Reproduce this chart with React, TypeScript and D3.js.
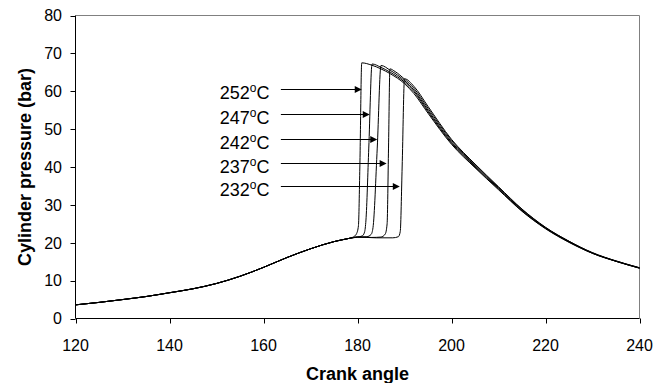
import React from "react";
import * as d3 from "d3";

// ---------- data ----------
const xTicks = [120, 140, 160, 180, 200, 220, 240];
const yTicks = [0, 10, 20, 30, 40, 50, 60, 70, 80];

// shared compression part (crank angle, bar)
const compressionAngle = [120, 125, 130, 135, 140, 145, 150, 155, 160, 165, 170, 175, 178];
const compressionPressure = [3.6, 4.25, 5.0, 5.8, 6.8, 7.85, 9.25, 11.15, 13.5, 16.1, 18.4, 20.3, 21.1];

const seriesLabels = ["252", "247", "242", "237", "232"];

const angle252 = [179.2, 179.8, 180.2, 180.5, 180.9, 183, 185, 187, 190, 192, 195, 200, 205, 210, 215, 220, 225, 230, 235, 240];
const press252 = [21.6, 22.4, 24.5, 40.0, 67.5, 66.9, 65.9, 64.6, 62.0, 59.4, 54.2, 46.0, 39.8, 34.0, 28.3, 23.7, 20.1, 17.2, 15.1, 13.3];

const angle247 = [180, 181, 181.5, 181.8, 182.4, 183.1, 185, 187, 190, 192, 195, 200, 205, 210, 215, 220, 225, 230, 235, 240];
const press247 = [21.5, 21.8, 22.8, 26.0, 45.0, 67.2, 66.3, 65.0, 62.4, 59.9, 54.6, 46.3, 40.0, 34.2, 28.4, 23.8, 20.2, 17.2, 15.1, 13.3];

const angle242 = [180, 182, 182.9, 183.3, 184.2, 185.0, 187, 190, 192, 195, 200, 205, 210, 215, 220, 225, 230, 235, 240];
const press242 = [21.5, 21.6, 22.2, 24.0, 45.0, 66.8, 65.5, 62.8, 60.3, 55.0, 46.6, 40.3, 34.4, 28.6, 23.9, 20.3, 17.3, 15.1, 13.3];

const angle237 = [180, 183, 185, 185.9, 186.3, 186.6, 186.9, 188, 190, 192, 195, 200, 205, 210, 215, 220, 225, 230, 235, 240];
const press237 = [21.5, 21.4, 21.5, 22.3, 25.0, 45.0, 65.9, 65.2, 63.2, 60.8, 55.5, 47.0, 40.6, 34.6, 28.8, 24.0, 20.4, 17.3, 15.2, 13.4];

const angle232 = [180, 184, 187.5, 188.7, 189.1, 189.5, 190.0, 192, 195, 200, 205, 210, 215, 220, 225, 230, 235, 240];
const press232 = [21.5, 21.3, 21.3, 21.6, 23.0, 40.0, 63.3, 61.3, 56.0, 47.3, 40.8, 34.8, 28.9, 24.1, 20.4, 17.4, 15.2, 13.4];

// annotation arrows (pressure level of the arrow, angle of its tip)
const arrowPressure = [60.5, 54.0, 47.5, 41.0, 35.0];
const arrowTipAngle = [180.9, 182.6, 184.2, 186.2, 189.0];
const labelStartAngle = 150.7;
const arrowStartAngle = 163.7;

// ---------- layout ----------
const W = 666;
const H = 383;
const left = 75.5;
const right = 639.5;
const top = 15.5;
const bottom = 318.5;

export default function App() {
  const x = d3.scaleLinear().domain([120, 240]).range([left, right]);
  const y = d3.scaleLinear().domain([0, 80]).range([bottom, top]);

  const curves = [
    [angle252, press252],
    [angle247, press247],
    [angle242, press242],
    [angle237, press237],
    [angle232, press232],
  ];

  const line = d3
    .line<[number, number]>()
    .x((d) => x(d[0]))
    .y((d) => y(d[1]))
    .curve(d3.curveMonotoneX);

  const paths = curves.map(([a, p]) => {
    const pts: [number, number][] = compressionAngle.map((ang, i) => [ang, compressionPressure[i]]);
    a.forEach((ang, i) => pts.push([ang, p[i]]));
    return line(pts) as string;
  });

  const font = "Arial, 'Liberation Sans', Helvetica, sans-serif";

  return (
    <svg
      width={W}
      height={H}
      style={{ position: "absolute", left: 0, top: 0, background: "#fff" }}
      fontFamily={font}
    >
      <rect x={0} y={0} width={W} height={H} fill="#fff" />
      {/* plot area border */}
      <path d={`M${left},${top}H${right}V${bottom}`} fill="none" stroke="#808080" strokeWidth={1} />

      {/* curves */}
      {paths.map((d, i) => (
        <path key={i} d={d} fill="none" stroke="#000" strokeWidth={1} />
      ))}

      {/* axes */}
      <line x1={left} x2={right} y1={bottom} y2={bottom} stroke="#000" strokeWidth={1} />
      <line x1={left} x2={left} y1={top} y2={bottom} stroke="#000" strokeWidth={1} />
      {yTicks.map((t) => (
        <g key={"y" + t}>
          <line x1={left - 5} x2={left} y1={Math.round(y(t)) + 0.5} y2={Math.round(y(t)) + 0.5} stroke="#000" />
          <text x={62} y={y(t)} dy="0.36em" textAnchor="end" fontSize={16} fill="#000">
            {t}
          </text>
        </g>
      ))}
      {xTicks.map((t) => (
        <g key={"x" + t}>
          <line x1={Math.round(x(t)) + 0.5} x2={Math.round(x(t)) + 0.5} y1={bottom} y2={bottom + 5} stroke="#000" />
          <text x={x(t)} y={351} textAnchor="middle" fontSize={16} fill="#000">
            {t}
          </text>
        </g>
      ))}

      {/* annotations */}
      {seriesLabels.map((lab, i) => {
        const ay = Math.round(y(arrowPressure[i])) + 0.5;
        const x0 = x(arrowStartAngle);
        const x1 = x(arrowTipAngle[i]);
        return (
          <g key={"a" + i}>
            <line x1={x0} x2={x1 - 6} y1={ay} y2={ay} stroke="#000" strokeWidth={1} />
            <path d={`M${x1},${ay}L${x1 - 7},${ay - 3.5}L${x1 - 7},${ay + 3.5}Z`} fill="#000" />
            <text x={x(labelStartAngle)} y={ay + 9} fontSize={18} fill="#000">
              {lab}
              <tspan fontSize={12} dy={-7}>o</tspan>
              <tspan dy={7}>C</tspan>
            </text>
          </g>
        );
      })}

      {/* axis titles */}
      <text x={(left + right) / 2} y={380} textAnchor="middle" fontSize={18} fontWeight="bold" fill="#000">
        Crank angle
      </text>
      <text
        transform={`translate(31,${(top + bottom) / 2}) rotate(-90)`}
        textAnchor="middle"
        fontSize={18}
        fontWeight="bold"
        fill="#000"
      >
        Cylinder pressure (bar)
      </text>
    </svg>
  );
}
